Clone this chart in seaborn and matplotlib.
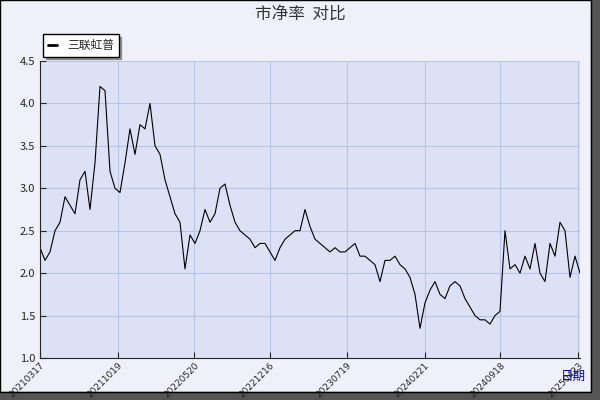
import pandas as pd
import matplotlib
matplotlib.use("Agg")
import matplotlib.pyplot as plt
from matplotlib.patches import Rectangle
import seaborn as sns

# ----------------------------
# Data
# ----------------------------
start_date = "2021-03-17"
end_date = "2025-04-28"
pb_values = [
    2.3, 2.15, 2.25, 2.5, 2.6, 2.9, 2.8, 2.7, 3.1, 3.2, 2.75, 3.3, 4.2, 4.15, 3.2, 3.0,
    2.95, 3.3, 3.7, 3.4, 3.75, 3.7, 4.0, 3.5, 3.4, 3.1, 2.9, 2.7, 2.6, 2.05, 2.45, 2.35,
    2.5, 2.75, 2.6, 2.7, 3.0, 3.05, 2.8, 2.6, 2.5, 2.45, 2.4, 2.3, 2.35, 2.35, 2.25, 2.15,
    2.3, 2.4, 2.45, 2.5, 2.5, 2.75, 2.55, 2.4, 2.35, 2.3, 2.25, 2.3, 2.25, 2.25, 2.3, 2.35,
    2.2, 2.2, 2.15, 2.1, 1.9, 2.15, 2.15, 2.2, 2.1, 2.05, 1.95, 1.75, 1.35, 1.65, 1.8, 1.9,
    1.75, 1.7, 1.85, 1.9, 1.85, 1.7, 1.6, 1.5, 1.45, 1.45, 1.4, 1.5, 1.55, 2.5, 2.05, 2.1,
    2.0, 2.2, 2.05, 2.35, 2.0, 1.9, 2.35, 2.2, 2.6, 2.5, 1.95, 2.2, 2.0,
]
tick_labels = ["20210317", "20211019", "20220520", "20221216",
               "20230719", "20240221", "20240918", "20250423"]
series_name = "三联虹普"

df = pd.DataFrame({
    "date": pd.date_range(start_date, end_date, periods=len(pb_values)),
    "pb": pb_values,
})

# ----------------------------
# Plot
# ----------------------------
sns.set_style("white")
plt.rcParams["font.family"] = ["Noto Sans CJK SC", "DejaVu Sans"]

fig = plt.figure(figsize=(6, 4), dpi=100, facecolor="#F0F0FA")
# dark shadow frame on right / bottom
fig.patches.append(Rectangle((0.985, 0), 0.015, 1, transform=fig.transFigure, color="#555555", zorder=-1))
fig.patches.append(Rectangle((0, 0), 1, 0.02, transform=fig.transFigure, color="#555555", zorder=-1))
fig.patches.append(Rectangle((0, 0.02), 0.985, 0.98, transform=fig.transFigure, fill=False,
                             edgecolor="black", linewidth=1))

ax = fig.add_axes([40 / 600, 42 / 400, 540 / 600, 297 / 400])
ax.set_facecolor("#DCE1F5")
sns.lineplot(data=df, x="date", y="pb", color="black", linewidth=0.8, ax=ax, label=series_name)

ticks = pd.to_datetime(tick_labels, format="%Y%m%d")
ax.set_xticks(ticks)
ax.set_xticklabels(tick_labels, rotation=45, ha="right", rotation_mode="anchor",
                   fontsize=6.5, family="DejaVu Sans")
ax.set_xlim(pd.Timestamp(start_date), pd.Timestamp(end_date))
ax.set_ylim(1.0, 4.5)
ax.set_yticks([1.0, 1.5, 2.0, 2.5, 3.0, 3.5, 4.0, 4.5])
ax.tick_params(axis="y", labelsize=8, direction="in", length=4, left=True)
ax.tick_params(axis="x", direction="in", length=4, bottom=True, pad=2)
ax.grid(True, color="#B8C4E8", linewidth=0.8)
ax.set_xlabel("")
ax.set_ylabel("")
for side in ["top", "right"]:
    ax.spines[side].set_visible(False)

fig.text(0.5, 0.965, "市净率  对比", ha="center", va="center", fontsize=12, color="#333333")
fig.text(0.955, 0.06, "日期", ha="center", va="center", fontsize=9, color="#0000CC")

leg = ax.legend(loc="upper left", bbox_to_anchor=(-0.005, 1.11), fontsize=8.5, frameon=True,
                fancybox=False, shadow=True, handlelength=0.8, borderpad=0.4)
leg.get_frame().set_edgecolor("black")
for line in leg.get_lines():
    line.set_linewidth(2)

fig.savefig("out.png", dpi=100, facecolor=fig.get_facecolor())
